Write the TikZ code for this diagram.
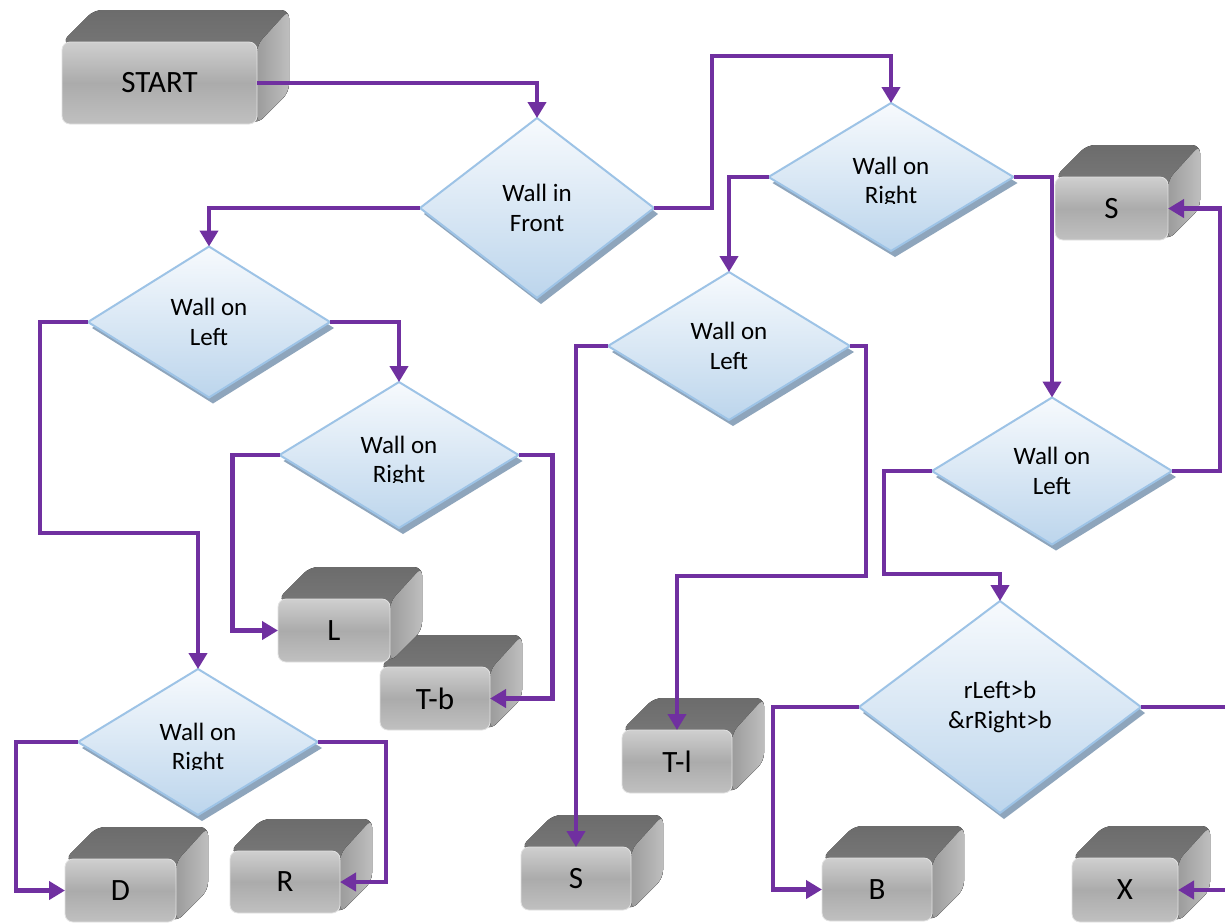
\documentclass[tikz,border=0pt]{standalone}
\usepackage{fontspec}
\setmainfont{Carlito}
\usetikzlibrary{arrows.meta,shapes.geometric,shadows,calc}

\definecolor{flow}{HTML}{7030A0}
\definecolor{diaTop}{HTML}{F7FAFD}
\definecolor{diaBot}{HTML}{BCD5EC}
\definecolor{diaEdge}{HTML}{9DC3E6}
\definecolor{diaShade}{HTML}{8EA5BC}
\definecolor{capTop}{HTML}{6C6C6C}
\definecolor{capBot}{HTML}{888888}
\definecolor{sideL}{HTML}{9C9C9C}
\definecolor{sideR}{HTML}{BEBEBE}
\definecolor{faceTop}{HTML}{CFCFCF}
\definecolor{faceMid}{HTML}{ABABAB}
\definecolor{faceBot}{HTML}{C0C0C0}

\tikzset{
  dtext/.style={inner sep=0pt, outer sep=0pt, font=\fontsize{12.5}{15}\selectfont},
  decision/.style 2 args={diamond, draw=diaEdge, line width=1pt,
    top color=diaTop, bottom color=diaBot,
    minimum width=#1*0.5pt, minimum height=#2*0.5pt,
    inner sep=0pt, outer sep=0pt, align=center,
    font=\fontsize{12.5}{15}\selectfont,
    drop shadow={shadow xshift=2pt, shadow yshift=-3pt, fill=diaShade, opacity=1}},
  cubeface/.style={rectangle, rounded corners=4pt,
    top color=faceTop, bottom color=faceBot, middle color=faceMid,
    draw=faceTop!60!white, line width=0.4pt,
    inner sep=0pt, outer sep=0pt, font=\fontsize{15.5}{18}\selectfont},
  captop/.style={top color=capTop, bottom color=capBot, rounded corners=4pt},
  capside/.style={left color=sideL, right color=sideR, rounded corners=4pt},
  conn/.style={draw=flow, line width=2.4pt, -{Triangle[length=8pt,width=9pt]}}
}

% extruded block: name, front-face corners (x1,y1) (x2,y2), label
\newcommand\cubebox[6]{%
  \fill[captop] (#2,#3) -- ({#2+32},{#3-32}) -- ({#4+32},{#3-32})
    -- ({#4+32},{#5-32}) -- (#4,#5) -- cycle;
  \fill[capside] (#4,{#3+3}) -- ({#4+32},{#3-32}) -- ({#4+32},{#5-32})
    -- (#4,#5) -- cycle;
  \node[cubeface, minimum width={(#4-#2)*0.5pt}, minimum height={(#5-#3)*0.5pt}]
    (#1) at ({(#2+#4)/2},{(#3+#5)/2}) {#6};%
}

\begin{document}
\begin{tikzpicture}[x=0.5pt, y=-0.5pt]
  \fill[white] (0,0) rectangle (1225,923);
  \clip (0,0) rectangle (1225,923);

  % decisions
  \node[decision={234}{180}] (d1) at (537,208) {Wall in\\Front};
  \node[decision={242}{151}] (d2) at (209,322) {Wall on\\Left};
  \node[decision={245}{148}] (d3) at (891,177) {};
  \node[decision={239}{146}] (d4) at (399,455) {};
  \node[decision={242}{148}] (d5) at (729,346) {Wall on\\Left};
  \node[decision={240}{146}] (d6) at (198,742) {};
  \node[decision={240}{147}] (d7) at (1052,471) {Wall on\\Left};
  \node[decision={282}{212}] (d8) at (1000,707) {rLeft>b\\\&rRight>b};

  % two-line labels whose second line is cut at its baseline
  \node[dtext, anchor=base] (d3a) at (891,174) {Wall on};
  \begin{scope}
    \clip (840,150) rectangle (940,203.5);
    \node[dtext, anchor=base] (d3b) at (891,203) {Right};
  \end{scope}
  \node[dtext, anchor=base] (d4a) at (399,453) {Wall on};
  \begin{scope}
    \clip (350,420) rectangle (450,482.5);
    \node[dtext, anchor=base] (d4b) at (399,482) {Right};
  \end{scope}
  \node[dtext, anchor=base] (d6a) at (198,740) {Wall on};
  \begin{scope}
    \clip (150,700) rectangle (250,769.5);
    \node[dtext, anchor=base] (d6b) at (198,769) {Right};
  \end{scope}

  % blocks
  \cubebox{start}{62}{42}{257}{124}{START}
  \cubebox{sTR}{1055}{177}{1168}{240}{S}
  \cubebox{bTb}{380}{667}{490}{730}{T-b}
  \cubebox{bL}{278}{599}{390}{662}{L}
  \cubebox{tl}{622}{730}{732}{793}{T-l}
  \cubebox{sB}{521}{847}{631}{910}{S}
  \cubebox{bD}{65}{859}{176}{922}{D}
  \cubebox{bR}{230}{851}{340}{913}{R}
  \cubebox{bB}{822}{858}{932}{921}{B}
  \cubebox{bX}{1072}{858}{1178}{922}{X}

  % connectors
  \draw[conn] (start.east) -| (d1.north);
  \draw[conn] (d1.west) -| (d2.north);
  \draw[conn] (d1.east) -- ++(58,0) |- ($(d3.north)+(0,-47)$) -- (d3.north);
  \draw[conn] (d3.west) -| (d5.north);
  \draw[conn] (d3.east) -| (d7.north);
  \draw[conn] (d7.east) -- ++(48,0) |- (sTR.east);
  \draw[conn] (d7.west) -- ++(-48,0) -- ++(0,103) -| (d8.north);
  \draw[conn] (d8.west) -- ++(-86,0) |- (bB.west);
  \draw[conn] (d8.east) -- ++(100,0) |- (bX.east);
  \draw[conn] (d5.west) -| (sB.north);
  \draw[conn] (d5.east) -- ++(16,0) -- ++(0,230) -| (tl.north);
  \draw[conn] (d2.west) -- ++(-48,0) -- ++(0,211) -| (d6.north);
  \draw[conn] (d2.east) -| (d4.north);
  \draw[conn] (d4.west) -- ++(-47,0) |- (bL.west);
  \draw[conn] (d4.east) -- ++(34,0) |- (bTb.east);
  \draw[conn] (d6.west) -- ++(-62,0) |- (bD.west);
  \draw[conn] (d6.east) -- ++(68,0) |- (bR.east);
\end{tikzpicture}
\end{document}
